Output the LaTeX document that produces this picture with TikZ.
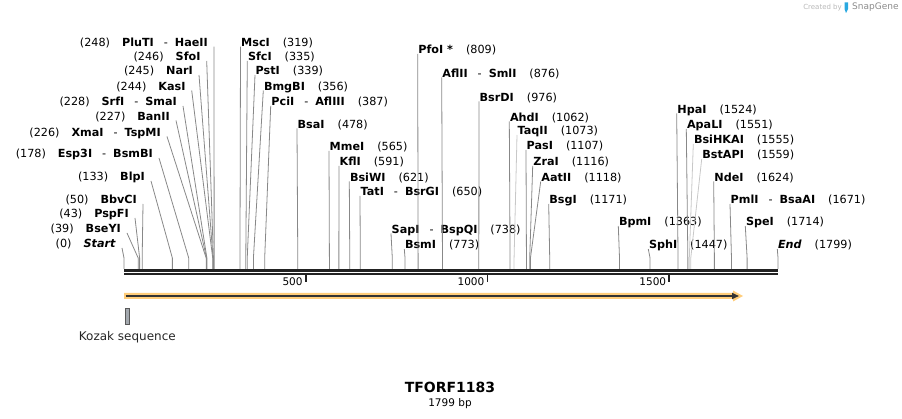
\documentclass[tikz,border=0pt]{standalone}
\usepackage{fontspec}
\setmainfont{DejaVu Sans}
\usepackage{tikz}
\usetikzlibrary{arrows.meta,positioning,calc}
\definecolor{linegray}{HTML}{888888}
\definecolor{faintgray}{HTML}{C8C8C8}
\definecolor{backbonecol}{HTML}{222222}
\definecolor{orfcol}{HTML}{FFCD7A}
\definecolor{orfdark}{HTML}{333333}
\definecolor{kozakcol}{HTML}{A3A8AE}
\definecolor{snapblue}{HTML}{29A8E0}
\newcommand{\labfont}{\fontsize{11.2}{13}\selectfont}
\newcommand{\enz}[1]{\textbf{#1}}
\newcommand{\sepdash}{\hspace{10pt}-\hspace{7pt}}
\newcommand{\numgap}{\hspace{12pt}}
\newcommand{\posgap}{\hspace{13pt}}
\newcommand{\atbp}[1]{124+0.363535*#1}
\tikzset{
cutline/.style = {draw=linegray, line width=0.8pt},
cutfaint/.style = {draw=faintgray, line width=0.8pt},
leftlab/.style = {anchor=base east, inner xsep=6pt, inner ysep=0pt, font=\labfont},
rightlab/.style = {anchor=base west, inner xsep=0.5pt, inner ysep=0pt, font=\labfont},
backbone/.style = {draw=backbonecol, line width=2.7pt},
tickline/.style = {draw=backbonecol, line width=1.8pt},
ticklab/.style = {anchor=base east, inner sep=0pt, font=\fontsize{10.5}{12}\selectfont},
kozak/.style = {draw=black!65, fill=kozakcol, line width=0.6pt, minimum width=4.5pt, minimum height=16pt, inner sep=0pt},
}

\begin{document}
\begin{tikzpicture}[x=1pt, y=-1pt]
      \useasboundingbox (0,0) rectangle (902,419);
      % sequence backbone and scale
      \coordinate (origin) at (124,270.3);
      \coordinate (seqend) at (778,270.3);
      \draw [backbone] (origin) -- (seqend);
      \draw [backbone] ([yshift=-3.7pt]origin) -- ([yshift=-3.7pt]seqend);
      \coordinate (t500) at ({\atbp{500}},275.5);
      \coordinate (t1000) at ({\atbp{1000}},275.5);
      \coordinate (t1500) at ({\atbp{1500}},275.5);
      \draw [tickline] (t500) -- ++(0,7);
      \draw [tickline] (t1000) -- ++(0,7);
      \draw [tickline] (t1500) -- ++(0,7);
      \node [ticklab] (t500-lab) at ([xshift=-3pt,yshift=-10.5pt]t500) {500};
      \node [ticklab] (t1000-lab) at ([xshift=-3pt,yshift=-10.5pt]t1000) {1000};
      \node [ticklab] (t1500-lab) at ([xshift=-3pt,yshift=-10.5pt]t1500) {1500};
      % sites left of their cut
      \coordinate (start) at ({\atbp{0}},269);
      \node [leftlab] (start-lab) at (122,248) {(0)\numgap\textbf{\textit{Start}}};
      \draw [cutline] (start-lab.base east) -- ([yshift=11pt]start) -- (start);
      \coordinate (bseyi) at ({\atbp{39}},269);
      \node [leftlab] (bseyi-lab) at (127,233) {(39)\numgap\enz{BseYI}};
      \draw [cutline] (bseyi-lab.base east) -- ([yshift=11pt]bseyi) -- (bseyi);
      \coordinate (pspfi) at ({\atbp{43}},269);
      \node [leftlab] (pspfi-lab) at (135,218) {(43)\numgap\enz{PspFI}};
      \draw [cutline] (pspfi-lab.base east) -- ([yshift=11pt]pspfi) -- (pspfi);
      \coordinate (bbvci) at ({\atbp{50}},269);
      \node [leftlab] (bbvci-lab) at (143,204) {(50)\numgap\enz{BbvCI}};
      \draw [cutline] (bbvci-lab.base east) -- ([yshift=11pt]bbvci) -- (bbvci);
      \coordinate (blpi) at ({\atbp{133}},269);
      \node [leftlab] (blpi-lab) at (151,181) {(133)\numgap\enz{BlpI}};
      \draw [cutline] (blpi-lab.base east) -- ([yshift=11pt]blpi) -- (blpi);
      \coordinate (esp3i) at ({\atbp{178}},269);
      \node [leftlab] (esp3i-lab) at (159,158) {(178)\numgap\enz{Esp3I}\sepdash\enz{BsmBI}};
      \draw [cutline] (esp3i-lab.base east) -- ([yshift=11pt]esp3i) -- (esp3i);
      \coordinate (xmai) at ({\atbp{226}},269);
      \node [leftlab] (xmai-lab) at (167,136.5) {(226)\numgap\enz{XmaI}\sepdash\enz{TspMI}};
      \draw [cutline] (xmai-lab.base east) -- ([yshift=11pt]xmai) -- (xmai);
      \coordinate (banii) at ({\atbp{227}},269);
      \node [leftlab] (banii-lab) at (176,120.5) {(227)\numgap\enz{BanII}};
      \draw [cutline] (banii-lab.base east) -- ([yshift=11pt]banii) -- (banii);
      \coordinate (srfi) at ({\atbp{228}},269);
      \node [leftlab] (srfi-lab) at (183,106) {(228)\numgap\enz{SrfI}\sepdash\enz{SmaI}};
      \draw [cutline] (srfi-lab.base east) -- ([yshift=11pt]srfi) -- (srfi);
      \coordinate (kasi) at ({\atbp{244}},269);
      \node [leftlab] (kasi-lab) at (191.7,90.5) {(244)\numgap\enz{KasI}};
      \draw [cutline] (kasi-lab.base east) -- ([yshift=11pt]kasi) -- (kasi);
      \coordinate (nari) at ({\atbp{245}},269);
      \node [leftlab] (nari-lab) at (199,75) {(245)\numgap\enz{NarI}};
      \draw [cutline] (nari-lab.base east) -- ([yshift=11pt]nari) -- (nari);
      \coordinate (sfoi) at ({\atbp{246}},269);
      \node [leftlab] (sfoi-lab) at (206.7,61) {(246)\numgap\enz{SfoI}};
      \draw [cutline] (sfoi-lab.base east) -- ([yshift=11pt]sfoi) -- (sfoi);
      \coordinate (pluti) at ({\atbp{248}},269);
      \node [leftlab] (pluti-lab) at (214,46.7) {(248)\numgap\enz{PluTI}\sepdash\enz{HaeII}};
      \draw [cutline] (pluti-lab.base east) -- ([yshift=11pt]pluti) -- (pluti);
      % sites right of their cut
      \coordinate (msci) at ({\atbp{319}},269);
      \node [rightlab] (msci-lab) at (240.5,46.7) {\enz{MscI}\posgap(319)};
      \draw [cutline] (msci-lab.base west) -- ([yshift=11pt]msci) -- (msci);
      \coordinate (sfci) at ({\atbp{335}},269);
      \node [rightlab] (sfci-lab) at (247.3,61) {\enz{SfcI}\posgap(335)};
      \draw [cutline] (sfci-lab.base west) -- ([yshift=11pt]sfci) -- (sfci);
      \coordinate (psti) at ({\atbp{339}},269);
      \node [rightlab] (psti-lab) at (255,75) {\enz{PstI}\posgap(339)};
      \draw [cutline] (psti-lab.base west) -- ([yshift=11pt]psti) -- (psti);
      \coordinate (bmgbi) at ({\atbp{356}},269);
      \node [rightlab] (bmgbi-lab) at (263.3,90.5) {\enz{BmgBI}\posgap(356)};
      \draw [cutline] (bmgbi-lab.base west) -- ([yshift=11pt]bmgbi) -- (bmgbi);
      \coordinate (pcii) at ({\atbp{387}},269);
      \node [rightlab] (pcii-lab) at (270.7,106) {\enz{PciI}\sepdash\enz{AflIII}\posgap(387)};
      \draw [cutline] (pcii-lab.base west) -- ([yshift=11pt]pcii) -- (pcii);
      \coordinate (bsai) at ({\atbp{478}},269);
      \node [rightlab] (bsai-lab) at (297,128.5) {\enz{BsaI}\posgap(478)};
      \draw [cutline] (bsai-lab.base west) -- ([yshift=11pt]bsai) -- (bsai);
      \coordinate (mmei) at ({\atbp{565}},269);
      \node [rightlab] (mmei-lab) at (329,151) {\enz{MmeI}\posgap(565)};
      \draw [cutline] (mmei-lab.base west) -- ([yshift=11pt]mmei) -- (mmei);
      \coordinate (kfli) at ({\atbp{591}},269);
      \node [rightlab] (kfli-lab) at (339,166) {\enz{KflI}\posgap(591)};
      \draw [cutline] (kfli-lab.base west) -- ([yshift=11pt]kfli) -- (kfli);
      \coordinate (bsiwi) at ({\atbp{621}},269);
      \node [rightlab] (bsiwi-lab) at (349.3,181.5) {\enz{BsiWI}\posgap(621)};
      \draw [cutline] (bsiwi-lab.base west) -- ([yshift=11pt]bsiwi) -- (bsiwi);
      \coordinate (tati) at ({\atbp{650}},269);
      \node [rightlab] (tati-lab) at (360,196) {\enz{TatI}\sepdash\enz{BsrGI}\posgap(650)};
      \draw [cutline] (tati-lab.base west) -- ([yshift=11pt]tati) -- (tati);
      \coordinate (sapi) at ({\atbp{738}},269);
      \node [rightlab] (sapi-lab) at (391,233.5) {\enz{SapI}\sepdash\enz{BspQI}\posgap(738)};
      \draw [cutline] (sapi-lab.base west) -- ([yshift=11pt]sapi) -- (sapi);
      \coordinate (bsmi) at ({\atbp{773}},269);
      \node [rightlab] (bsmi-lab) at (404.3,249) {\enz{BsmI}\posgap(773)};
      \draw [cutline] (bsmi-lab.base west) -- ([yshift=11pt]bsmi) -- (bsmi);
      \coordinate (pfoi) at ({\atbp{809}},269);
      \node [rightlab] (pfoi-lab) at (417.7,54) {\enz{PfoI *}\posgap(809)};
      \draw [cutline] (pfoi-lab.base west) -- ([yshift=11pt]pfoi) -- (pfoi);
      \coordinate (aflii) at ({\atbp{876}},269);
      \node [rightlab] (aflii-lab) at (441.7,77.5) {\enz{AflII}\sepdash\enz{SmlI}\posgap(876)};
      \draw [cutline] (aflii-lab.base west) -- ([yshift=11pt]aflii) -- (aflii);
      \coordinate (bsrdi) at ({\atbp{976}},269);
      \node [rightlab] (bsrdi-lab) at (479,101.5) {\enz{BsrDI}\posgap(976)};
      \draw [cutline] (bsrdi-lab.base west) -- ([yshift=11pt]bsrdi) -- (bsrdi);
      \coordinate (ahdi) at ({\atbp{1062}},269);
      \node [rightlab] (ahdi-lab) at (509.3,121.5) {\enz{AhdI}\posgap(1062)};
      \draw [cutline] (ahdi-lab.base west) -- ([yshift=11pt]ahdi) -- (ahdi);
      \coordinate (taqii) at ({\atbp{1073}},269);
      \node [rightlab] (taqii-lab) at (517,135) {\enz{TaqII}\posgap(1073)};
      \draw [cutfaint] (taqii-lab.base west) -- ([yshift=11pt]taqii) -- (taqii);
      \coordinate (pasi) at ({\atbp{1107}},269);
      \node [rightlab] (pasi-lab) at (526,150) {\enz{PasI}\posgap(1107)};
      \draw [cutline] (pasi-lab.base west) -- ([yshift=11pt]pasi) -- (pasi);
      \coordinate (zrai) at ({\atbp{1116}},269);
      \node [rightlab] (zrai-lab) at (532.7,166) {\enz{ZraI}\posgap(1116)};
      \draw [cutline] (zrai-lab.base west) -- ([yshift=11pt]zrai) -- (zrai);
      \coordinate (aatii) at ({\atbp{1118}},269);
      \node [rightlab] (aatii-lab) at (540.7,181.5) {\enz{AatII}\posgap(1118)};
      \draw [cutline] (aatii-lab.base west) -- ([yshift=11pt]aatii) -- (aatii);
      \coordinate (bsgi) at ({\atbp{1171}},269);
      \node [rightlab] (bsgi-lab) at (548.7,204) {\enz{BsgI}\posgap(1171)};
      \draw [cutline] (bsgi-lab.base west) -- ([yshift=11pt]bsgi) -- (bsgi);
      \coordinate (bpmi) at ({\atbp{1363}},269);
      \node [rightlab] (bpmi-lab) at (618.3,226) {\enz{BpmI}\posgap(1363)};
      \draw [cutline] (bpmi-lab.base west) -- ([yshift=11pt]bpmi) -- (bpmi);
      \coordinate (sphi) at ({\atbp{1447}},269);
      \node [rightlab] (sphi-lab) at (648.3,249) {\enz{SphI}\posgap(1447)};
      \draw [cutline] (sphi-lab.base west) -- ([yshift=11pt]sphi) -- (sphi);
      \coordinate (hpai) at ({\atbp{1524}},269);
      \node [rightlab] (hpai-lab) at (676.7,113.5) {\enz{HpaI}\posgap(1524)};
      \draw [cutline] (hpai-lab.base west) -- ([yshift=11pt]hpai) -- (hpai);
      \coordinate (apali) at ({\atbp{1551}},269);
      \node [rightlab] (apali-lab) at (686.3,129) {\enz{ApaLI}\posgap(1551)};
      \draw [cutline] (apali-lab.base west) -- ([yshift=11pt]apali) -- (apali);
      \coordinate (bsihkai) at ({\atbp{1555}},269);
      \node [rightlab] (bsihkai-lab) at (693.3,144) {\enz{BsiHKAI}\posgap(1555)};
      \draw [cutfaint] (bsihkai-lab.base west) -- ([yshift=11pt]bsihkai) -- (bsihkai);
      \coordinate (bstapi) at ({\atbp{1559}},269);
      \node [rightlab] (bstapi-lab) at (701.7,159) {\enz{BstAPI}\posgap(1559)};
      \draw [cutfaint] (bstapi-lab.base west) -- ([yshift=11pt]bstapi) -- (bstapi);
      \coordinate (ndei) at ({\atbp{1624}},269);
      \node [rightlab] (ndei-lab) at (713.7,181.5) {\enz{NdeI}\posgap(1624)};
      \draw [cutline] (ndei-lab.base west) -- ([yshift=11pt]ndei) -- (ndei);
      \coordinate (pmli) at ({\atbp{1671}},269);
      \node [rightlab] (pmli-lab) at (730,204) {\enz{PmlI}\sepdash\enz{BsaAI}\posgap(1671)};
      \draw [cutline] (pmli-lab.base west) -- ([yshift=11pt]pmli) -- (pmli);
      \coordinate (spei) at ({\atbp{1714}},269);
      \node [rightlab] (spei-lab) at (745.3,226) {\enz{SpeI}\posgap(1714)};
      \draw [cutline] (spei-lab.base west) -- ([yshift=11pt]spei) -- (spei);
      \coordinate (end) at ({\atbp{1799}},269);
      \node [rightlab] (end-lab) at (777.3,249) {\textbf{\textit{End}}\posgap(1799)};
      \draw [cutline] (end-lab.base west) -- ([yshift=11pt]end) -- (end);
      % open reading frame
      \coordinate (orfstart) at (125.5,296);
      \coordinate (orfend) at (739,296);
      \fill [orfcol] (124,293) -- (733,293) -- (733,290.5) -- (743,296) -- (733,301.5) -- (733,299) -- (124,299) -- cycle;
      \draw [orfdark, line width=1.6pt, -{Triangle[length=7pt,width=6pt]}] (orfstart) -- (orfend);
      % kozak
      \node [kozak] (kozak) at (127.3,316.3) {};
      \node [below=7pt of kozak, inner sep=0pt, font=\fontsize{12}{14}\selectfont, text=black!85] (kozak-lab) {Kozak sequence};
      % title
      \node [font=\bfseries\fontsize{14}{16}\selectfont] (title) at (450,387) {TFORF1183};
      \node [font=\fontsize{10.5}{12}\selectfont] (length) at (450,403.5) {1799 bp};
      % credit
      \node [anchor=east, inner sep=0pt, font=\fontsize{7}{8}\selectfont, text=black!28] (credit) at (842,7.5) {Created by};
      \fill [snapblue] (844.5,2.5) rectangle (848,9) (844.5,9) -- (848,9) -- (846,13) -- cycle;
      \node [anchor=west, inner sep=0pt, font=\fontsize{9}{10}\selectfont, text=black!45] (snapgene) at (852,7.5) {SnapGene};
\end{tikzpicture}
\end{document}
